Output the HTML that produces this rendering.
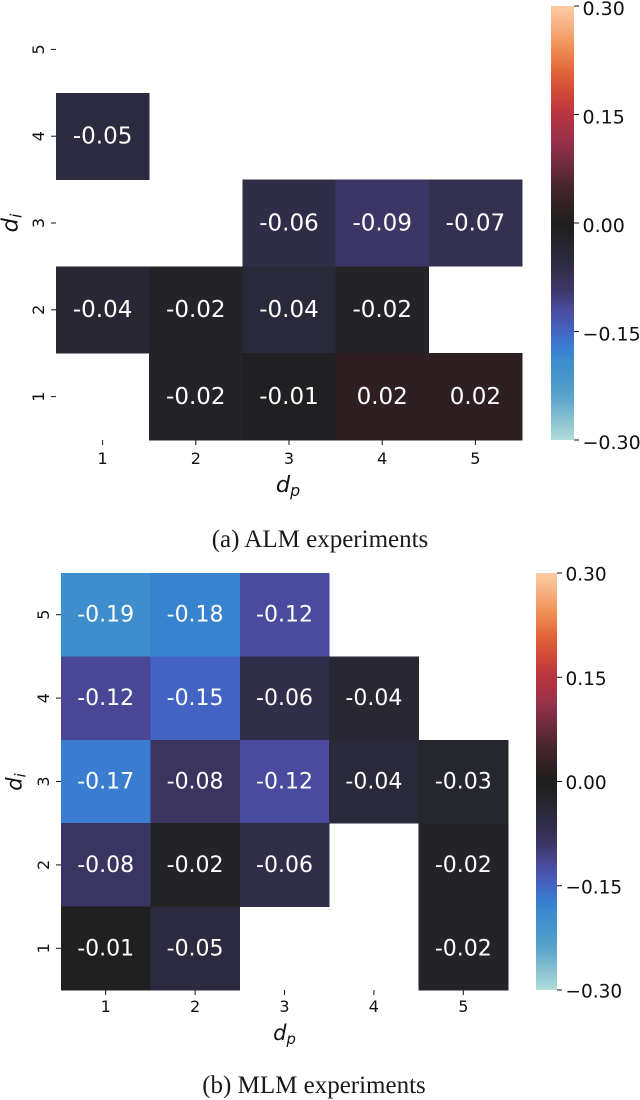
<!DOCTYPE html>
<html lang="en">
<head>
<meta charset="utf-8">
<title>ALM and MLM experiment heatmaps</title>
<style>
html,body{margin:0;padding:0;background:#fff;width:640px;height:1100px;overflow:hidden}
svg{display:block}
text{font-family:"DejaVu Sans",sans-serif;fill:#111}
.caption{font-family:"Liberation Serif",serif;fill:#1a1a1a}
</style>
</head>
<body>
<svg id="figure" xmlns="http://www.w3.org/2000/svg" width="640" height="1100" viewBox="0 0 640 1100"></svg>
<script>
const xCategories = [1, 2, 3, 4, 5];
const yCategories = [5, 4, 3, 2, 1];
const almValues = [
  [null, null, null, null, null],
  [-0.05, null, null, null, null],
  [null, null, -0.06, -0.09, -0.07],
  [-0.036, -0.02, -0.044, -0.02, null],
  [null, -0.02, -0.01, 0.02, 0.02]
];
const mlmValues = [
  [-0.19, -0.18, -0.12, null, null],
  [-0.116, -0.15, -0.064, -0.036, null],
  [-0.17, -0.082, -0.12, -0.044, -0.03],
  [-0.084, -0.02, -0.064, null, -0.02],
  [-0.008, -0.05, null, null, -0.02]
];
const colorbarTicks = [-0.30, -0.15, 0.00, 0.15, 0.30];
const colorDomain = [-0.30, 0.30];
const colormapValues = [-0.30, -0.27, -0.24, -0.21, -0.19, -0.18, -0.17, -0.15, -0.12, -0.09, -0.08, -0.07, -0.06, -0.05, -0.04, -0.02, -0.01, 0, 0.02, 0.05, 0.08, 0.11, 0.15, 0.18, 0.21, 0.24, 0.27, 0.30];
const colormapColors = ["#b0dcd9", "#86bfd0", "#5aa3cb", "#4594cc", "#3e8dcd", "#3883cf", "#3a7dd0", "#4464c4", "#4a4b9e", "#3c3664", "#39335d", "#34304f", "#2f2d47", "#2c2a3e", "#292836", "#232328", "#202022", "#1e1e1e", "#2e2022", "#47252d", "#6e2b3e", "#95304a", "#b8343f", "#d04a38", "#e2653a", "#ee8c50", "#f6ad7e", "#fdcba4"];

const panels = [
  { id: "alm", values: almValues, left: 56, right: 522, top: 6, bottom: 440,
    annotSize: 23, tickSize: 16, cbarLeft: 551, cbarRight: 574, cbarSize: 19, cbarOffset: 8.9, xTickBase: 24,
    xLabelX: 288, xLabelY: 492, xLabelSize: 22.5, yLabelX: 17.5, yLabelMid: 223, caption: "(a) ALM experiments", captionY: 547, captionX: 320, captionSize: 25 },
  { id: "mlm", values: mlmValues, left: 61, right: 508, top: 573, bottom: 990,
    annotSize: 22, tickSize: 16, cbarLeft: 536, cbarRight: 557, cbarSize: 18.5, cbarOffset: 7.6, xTickBase: 22,
    xLabelX: 284.5, xLabelY: 1040, xLabelSize: 21, yLabelX: 21.5, yLabelMid: 782, caption: "(b) MLM experiments", captionY: 1093, captionX: 314, captionSize: 25 }
];

const NS = "http://www.w3.org/2000/svg";
const figure = document.getElementById("figure");

function hexToRgb(h) {
  return [parseInt(h.slice(1, 3), 16), parseInt(h.slice(3, 5), 16), parseInt(h.slice(5, 7), 16)];
}
function colorFor(v) {
  const c = Math.max(colorDomain[0], Math.min(colorDomain[1], v));
  let i = 0;
  while (i < colormapValues.length - 2 && c > colormapValues[i + 1]) i++;
  const t = (c - colormapValues[i]) / (colormapValues[i + 1] - colormapValues[i]);
  const a = hexToRgb(colormapColors[i]);
  const b = hexToRgb(colormapColors[i + 1]);
  return "rgb(" + a.map((x, k) => Math.round(x + (b[k] - x) * t)).join(",") + ")";
}
function make(tag, parent, props, content) {
  const el = document.createElementNS(NS, tag);
  for (const key in props) el.setAttribute(key, props[key]);
  if (content !== undefined) el.textContent = content;
  parent.appendChild(el);
  return el;
}

panels.forEach(function (p) {
  const cellW = (p.right - p.left) / xCategories.length;
  const cellH = (p.bottom - p.top) / yCategories.length;
  const xBand = function (i) { return p.left + i * cellW; };
  const yBand = function (j) { return p.top + j * cellH; };
  const yCbar = function (v) {
    return p.bottom - (v - colorDomain[0]) / (colorDomain[1] - colorDomain[0]) * (p.bottom - p.top);
  };

  const group = make("g", figure, {});
  
  

  p.values.forEach(function (row, j) {
    row.forEach(function (v, i) {
      if (v === null) return;
      const cell = make("rect", group, {
        x: xBand(i), y: yBand(j), width: cellW + 0.3, height: cellH + 0.3,
        fill: colorFor(v), "shape-rendering": "crispEdges"
      });
      
      
    });
  });
  p.values.forEach(function (row, j) {
    row.forEach(function (v, i) {
      if (v === null) return;
      const label = make("text", group, {
        x: xBand(i) + cellW / 2, y: yBand(j) + cellH / 2 + p.annotSize * 0.32,
        "text-anchor": "middle", "font-size": p.annotSize, style: "fill:#fff"
      }, v.toFixed(2));
      
      
    });
  });

  xCategories.forEach(function (c, i) {
    const x = xBand(i) + cellW / 2;
    const tick = make("line", group, { x1: x, x2: x, y1: p.bottom, y2: p.bottom + 5, stroke: "#111", "stroke-width": 1 });
    
    
    const label = make("text", group, { x: x, y: p.bottom + p.xTickBase, "text-anchor": "middle", "font-size": p.tickSize }, String(c));
    
    
  });

  yCategories.forEach(function (c, j) {
    const y = yBand(j) + cellH / 2;
    const tick = make("line", group, { x1: p.left - 5, x2: p.left, y1: y, y2: y, stroke: "#111", "stroke-width": 1 });
    
    
    const lx = p.left - 12;
    const label = make("text", group, {
      x: lx, y: y, "text-anchor": "middle", "font-size": p.tickSize,
      transform: "rotate(-90 " + lx + " " + y + ")"
    }, String(c));
    
    
  });

  const xTitle = make("text", group, { x: p.xLabelX, y: p.xLabelY, "text-anchor": "middle", "font-size": p.xLabelSize, "font-style": "italic" });
  
  
  make("tspan", xTitle, {}, "d");
  make("tspan", xTitle, { "font-size": p.xLabelSize * 0.7, dy: 4 }, "p");

  const yTitle = make("text", group, {
    x: p.yLabelX, y: p.yLabelMid, "text-anchor": "middle", "font-size": p.xLabelSize, "font-style": "italic",
    transform: "rotate(-90 " + p.yLabelX + " " + p.yLabelMid + ")"
  });
  
  
  make("tspan", yTitle, {}, "d");
  make("tspan", yTitle, { "font-size": p.xLabelSize * 0.7, dy: 4 }, "i");

  const colorbar = make("g", group, {});
  
  
  for (let py = p.top; py < p.bottom; py++) {
    const frac = (p.bottom - py - 0.5) / (p.bottom - p.top);
    const v = colorDomain[0] + frac * (colorDomain[1] - colorDomain[0]);
    const strip = make("rect", colorbar, {
      x: p.cbarLeft, y: py, width: p.cbarRight - p.cbarLeft, height: 1.2,
      fill: colorFor(v), "shape-rendering": "crispEdges"
    });
    
    
  }
  colorbarTicks.forEach(function (t) {
    const y = yCbar(t);
    const tick = make("line", colorbar, { x1: p.cbarRight, x2: p.cbarRight + 5, y1: y, y2: y, stroke: "#111", "stroke-width": 1 });
    
    
    const label = make("text", colorbar, {
      x: p.cbarRight + 8.5, y: y + p.cbarOffset, "font-size": p.cbarSize
    }, t.toFixed(2).replace("-", "\u2212"));
    
    
  });

  const caption = make("text", group, {
    x: p.captionX, y: p.captionY, "text-anchor": "middle", "font-size": p.captionSize, "class": "caption"
  }, p.caption);
  
  
});
</script>
</body>
</html>
